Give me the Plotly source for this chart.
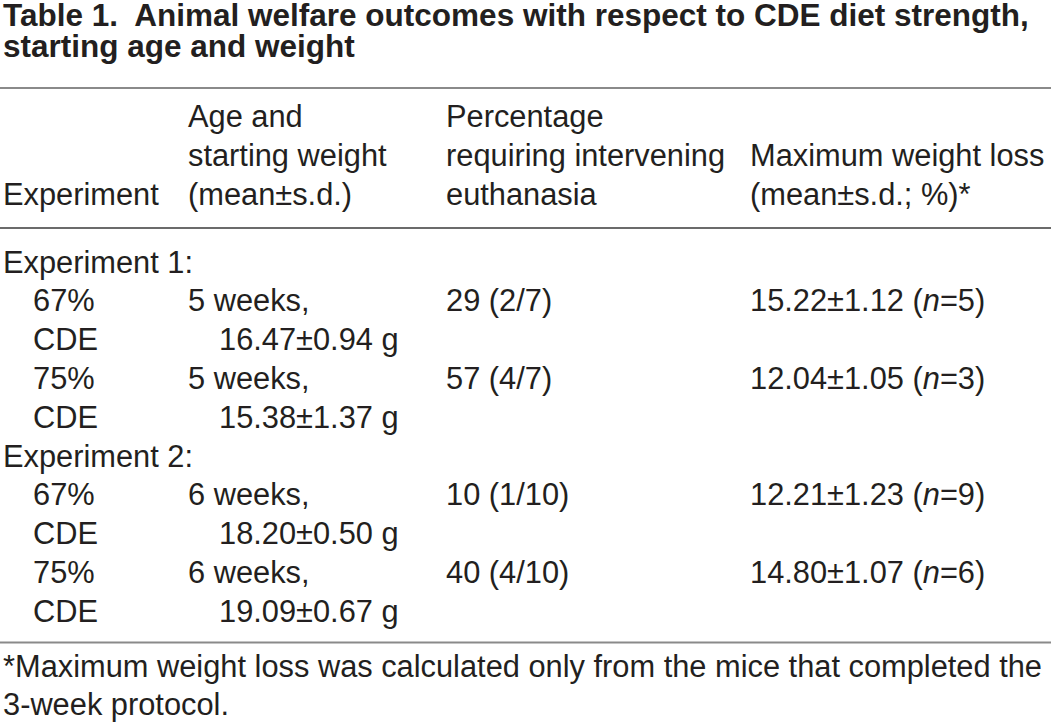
import plotly.graph_objects as go

# ---- data ----
title_lines = ["Table 1.  Animal welfare outcomes with respect to CDE diet strength,",
               "starting age and weight"]
header_cols = [["Experiment"],
               ["Age and", "starting weight", "(mean±s.d.)"],
               ["Percentage", "requiring intervening", "euthanasia"],
               ["Maximum weight loss", "(mean±s.d.; %)*"]]
experiments = ["Experiment 1:", "Experiment 2:"]
diet_strength = ["67%", "75%", "67%", "75%"]
diet_label = "CDE"
experiment_of_row = [0, 0, 1, 1]
age_weeks = [5, 5, 6, 6]
weight_mean = [16.47, 15.38, 18.20, 19.09]
weight_sd = [0.94, 1.37, 0.50, 0.67]
euth_pct = [29, 57, 10, 40]
euth_count = [2, 4, 1, 4]
euth_total = [7, 7, 10, 10]
loss_mean = [15.22, 12.04, 12.21, 14.80]
loss_sd = [1.12, 1.05, 1.23, 1.07]
loss_n = [5, 3, 9, 6]
footnote_lines = ["*Maximum weight loss was calculated only from the mice that completed the",
                  "3-week protocol."]

# ---- layout constants ----
W, H = 1051, 723
FONT = "Liberation Sans, Arial, Helvetica, sans-serif"
TXT = "#231f20"
FS = 30.8
TFS = 31.5
col_x = [2, 187, 445, 749]
indent1 = 32
indent2 = 218
row_h = 38.8
header_base = [127, 166, 205]
body_base0 = 273
foot_base = [677, 715]
title_base = [26, 57.5]
OFF_RATIO = 10.5 / 29.6  # baseline -> middle anchor offset per px of font size

ann = []

def add(x, base, text, bold=False, size=FS):
    ann.append(dict(x=x, y=base - OFF_RATIO * size, xref="x", yref="y", text=text,
                    showarrow=False, xanchor="left", yanchor="middle", borderpad=0,
                    font=dict(family=FONT, size=size, color=TXT,
                              weight="bold" if bold else "normal")))

for i, t in enumerate(title_lines):
    add(col_x[0], title_base[i], t, bold=True, size=TFS)

for c, lines in enumerate(header_cols):
    n = len(lines)
    for j, t in enumerate(lines):
        add(col_x[c], header_base[3 - n + j], t)

row = 0
prev_exp = None
for i in range(len(diet_strength)):
    if experiment_of_row[i] != prev_exp:
        add(col_x[0], body_base0 + row * row_h, experiments[experiment_of_row[i]])
        prev_exp = experiment_of_row[i]
        row += 1
    b1 = body_base0 + row * row_h
    b2 = b1 + row_h
    add(indent1, b1, diet_strength[i])
    add(indent1, b2, diet_label)
    add(col_x[1], b1, f"{age_weeks[i]} weeks,")
    add(indent2, b2, f"{weight_mean[i]:.2f}±{weight_sd[i]:.2f} g")
    add(col_x[2], b1, f"{euth_pct[i]} ({euth_count[i]}/{euth_total[i]})")
    add(col_x[3], b1, f"{loss_mean[i]:.2f}±{loss_sd[i]:.2f} (<i>n</i>={loss_n[i]})")
    row += 2

for i, t in enumerate(footnote_lines):
    add(col_x[0], foot_base[i], t)

shapes = [
    dict(type="line", x0=0, x1=W, y0=88, y1=88, xref="x", yref="y",
         line=dict(color="#8a8a8a", width=2.2)),
    dict(type="line", x0=0, x1=W, y0=228, y1=228, xref="x", yref="y",
         line=dict(color="#3a3a3a", width=1.6)),
    dict(type="line", x0=0, x1=W, y0=642.5, y1=642.5, xref="x", yref="y",
         line=dict(color="#8a8a8a", width=2.2)),
]

fig = go.Figure()
fig.update_layout(
    width=W, height=H, margin=dict(l=0, r=0, t=0, b=0),
    paper_bgcolor="white", plot_bgcolor="white",
    xaxis=dict(range=[0, W], visible=False, fixedrange=True),
    yaxis=dict(range=[H, 0], visible=False, fixedrange=True),
    annotations=ann, shapes=shapes, showlegend=False,
)
fig.write_html("out.html", config={"displayModeBar": False},
               post_script="document.body.style.margin='0';document.body.style.overflow='hidden';")
